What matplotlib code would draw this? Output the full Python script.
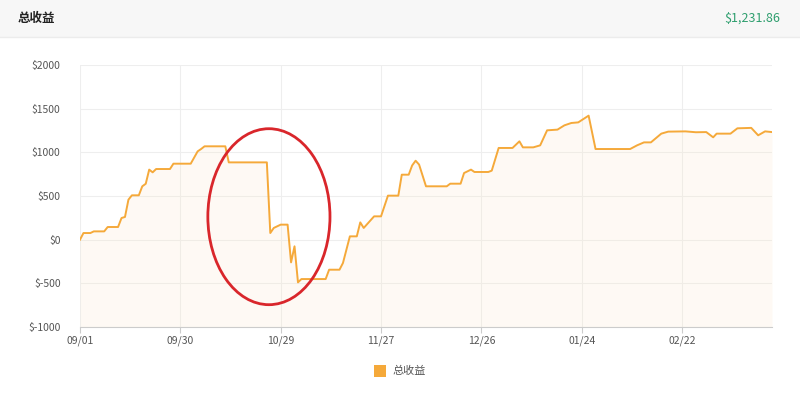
import matplotlib.pyplot as plt
from matplotlib.patches import Ellipse, Rectangle
from matplotlib.lines import Line2D

plt.rcParams['font.family'] = ['Noto Sans CJK SC', 'DejaVu Sans']

# days since 09/01 and total profit ($)
days = [0, 1, 3, 4, 7, 8, 11, 12, 13, 14, 15, 17, 18, 19, 20, 21, 22, 26, 27, 32,
        34, 35, 36, 42, 43, 54, 55, 56, 58, 60, 61, 62, 63, 64, 71, 72, 75, 76, 78, 80,
        81, 82, 85, 87, 89, 92, 93, 95, 96, 97, 98, 100, 106, 107, 110, 111, 113, 114, 118, 119,
        121, 125, 127, 128, 131, 133, 135, 138, 140, 142, 144, 147, 149, 159, 161, 163, 165, 168, 170, 175,
        178, 181, 183, 184, 188, 190, 194, 196, 198, 200]
profit = [0, 76, 76, 95, 95, 145, 145, 248, 260, 458, 508, 508, 611, 640, 802, 771, 809, 809, 870, 870,
          1011, 1038, 1069, 1069, 885, 885, 76, 134, 172, 172, -260, -76, -489, -451, -451, -344, -344, -267, 38, 38,
          198, 134, 267, 267, 504, 504, 744, 744, 850, 904, 860, 611, 611, 641, 641, 763, 802, 775, 775, 790,
          1050, 1050, 1126, 1057, 1057, 1080, 1252, 1260, 1309, 1336, 1343, 1420, 1038, 1038, 1080, 1114, 1114, 1214, 1237, 1240,
          1230, 1232, 1172, 1214, 1214, 1275, 1280, 1195, 1240, 1231.86]

tick_days = [0, 29, 58, 87, 116, 145, 174]
tick_labels = ['09/01', '09/30', '10/29', '11/27', '12/26', '01/24', '02/22']
y_ticks = [-1000, -500, 0, 500, 1000, 1500, 2000]
total = 1231.86

# red circle marking the drop (center day, center value, width days, height $)
mark = (54.6, 263, 35.3, 2015)

fig = plt.figure(figsize=(8, 4.07), dpi=100)
fig.patch.set_facecolor('white')

# header bar
fig.patches.append(Rectangle((0, 1 - 37 / 407), 1, 37 / 407, transform=fig.transFigure,
                             facecolor='#f7f7f7', edgecolor='none', zorder=0))
fig.lines.append(Line2D([0, 1], [1 - 37 / 407] * 2, transform=fig.transFigure,
                        color='#ececec', lw=1))
fig.text(18 / 800, 1 - 18 / 407, '总收益', fontsize=9, fontweight='bold', color='#222222',
         va='center', ha='left')
fig.text(780 / 800, 1 - 18 / 407, '${:,.2f}'.format(total), fontsize=9, color='#2e9e6e',
         va='center', ha='right')

ax = fig.add_axes([80 / 800, 1 - 327 / 407, 692 / 800, 262 / 407])
ax.plot(days, profit, color='#f5a93a', lw=1.4, zorder=3)
ax.fill_between(days, profit, -1000, color='#fbe3c4', alpha=0.18, lw=0, zorder=2)

ax.set_xlim(0, 200)
ax.set_ylim(-1000, 2000)
ax.set_xticks(tick_days)
ax.set_xticklabels(tick_labels)
ax.set_yticks(y_ticks)
ax.set_yticklabels(['$' + str(v) for v in y_ticks])
ax.grid(True, color='#eeeeee', lw=0.8)
ax.set_axisbelow(True)
for s in ['top', 'right', 'left']:
    ax.spines[s].set_visible(False)
ax.spines['bottom'].set_color('#cccccc')
ax.tick_params(axis='y', length=0, labelsize=7.5, colors='#555555', pad=14)
ax.tick_params(axis='x', length=4, color='#cccccc', labelsize=7.5, labelcolor='#555555', pad=2)

ax.add_patch(Ellipse((mark[0], mark[1]), mark[2], mark[3], fill=False,
                     edgecolor='#d9262b', lw=2, zorder=4))

# legend
fig.patches.append(Rectangle((374 / 800, 1 - 377 / 407), 12 / 800, 12 / 407,
                             transform=fig.transFigure, facecolor='#f5a93a', edgecolor='none'))
fig.text(392 / 800, 1 - 371 / 407, '总收益', fontsize=8, color='#555555', va='center', ha='left')

fig.savefig('out.png', dpi=100)
